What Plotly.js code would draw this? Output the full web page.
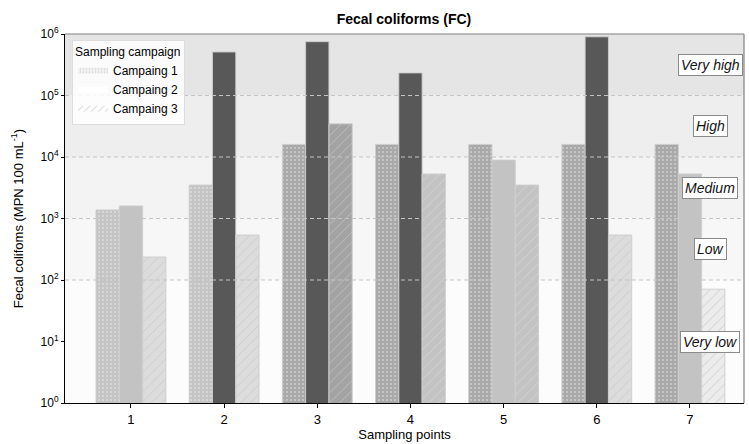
<!DOCTYPE html>
<html>
<head>
<meta charset="utf-8">
<script src="https://cdn.plot.ly/plotly-3.0.1.min.js"></script>
<style>html,body{margin:0;padding:0;background:#fff;}#chart{width:749px;height:444px;}</style>
</head>
<body>
<div id="chart"></div>
<script>
// ---- data ----
const categories = [1, 2, 3, 4, 5, 6, 7];
const campaign1 = [1380, 3500, 16000, 16000, 16000, 16000, 16000];
const campaign2 = [1600, 510000, 750000, 233000, 8900, 900000, 5300];
const campaign3 = [237, 540, 34600, 5300, 3500, 540, 71];
const seriesNames = ['Campaing 1', 'Campaing 2', 'Campaing 3'];
const levelNames = ['Very low', 'Low', 'Medium', 'High', 'Very high'];
const levelBreaks = [1, 100, 1000, 10000, 100000, 1000000];
const yTickVals = [1, 10, 100, 1000, 10000, 100000, 1000000];
const yTickText = ['10<sup>0</sup>','10<sup>1</sup>','10<sup>2</sup>','10<sup>3</sup>','10<sup>4</sup>','10<sup>5</sup>','10<sup>6</sup>'];

// ---- styles ----
const FONT = 'Liberation Sans, Arial, sans-serif';
const solidColors = ['#ececec', '#dcdcdc', '#c3c3c3', '#a3a3a3', '#585858'];
const dotBg = ['#e6e6e6', '#d6d6d6', '#c4c4c4', '#a9a9a9', '#666666'];
const dotFg = ['#f4f4f4', '#ececec', '#dedede', '#cecece', '#999999'];
const hatchFg = ['#cdcdcd', '#cbcbcb', '#d3d3d3', '#bdbdbd', '#7a7a7a'];
const bandColors = ['#fcfcfc', '#f7f7f7', '#f3f3f3', '#eeeeee', '#e5e5e5'];

function level(v) {
  let l = 0;
  for (let i = 1; i < levelBreaks.length - 1; i++) if (v >= levelBreaks[i]) l = i;
  return l;
}

const barW = 0.25;
const edge = {color: 'rgba(205,205,205,0.9)', width: 1};
const noEdge = {color: 'rgba(0,0,0,0)', width: 0};

function baseBar(y, k, colors) {
  return {type: 'bar', x: categories, y: y, name: seriesNames[k], showlegend: false,
    offset: (k - 1.5) * barW, width: barW,
    marker: {color: colors, line: edge}, hoverinfo: 'x+y'};
}
function patternBar(y, k, shape, size, solidity, fg) {
  return {type: 'bar', x: categories, y: y, name: seriesNames[k], showlegend: false,
    offset: (k - 1.5) * barW, width: barW,
    marker: {color: 'rgba(0,0,0,0)', line: noEdge,
      pattern: {shape: shape, size: size, solidity: solidity, fillmode: 'overlay', fgcolor: fg, fgopacity: 1}},
    hoverinfo: 'skip'};
}

const t1 = baseBar(campaign1, 0, campaign1.map(v => dotBg[level(v)]));
const t1p = patternBar(campaign1, 0, '.', 4, 0.2, campaign1.map(v => dotFg[level(v)]));
const t2 = baseBar(campaign2, 1, campaign2.map(v => solidColors[level(v)]));
const t3 = baseBar(campaign3, 2, campaign3.map(v => solidColors[level(v)]));
const t3p = patternBar(campaign3, 2, '/', 7, 0.14, campaign3.map(v => hatchFg[level(v)]));

// legend-only entries (white swatches as in the reference)
function legendEntry(name, pattern) {
  const tr = {
    type: 'scatter', x: [null], y: [null], name: name, mode: 'none',
    fill: 'toself', fillcolor: '#ffffff', showlegend: true, hoverinfo: 'skip'
  };
  if (pattern) tr.fillpattern = pattern;
  return tr;
}
const l1 = legendEntry(seriesNames[0], {shape: '.', size: 3, solidity: 0.3, fgcolor: '#d6d6d6', bgcolor: '#f6f6f6'});
const l2 = legendEntry(seriesNames[1], null);
const l3 = legendEntry(seriesNames[2], {shape: '/', size: 5, solidity: 0.2, fgcolor: '#d6d6d6', bgcolor: '#ffffff'});

const shapes = [];
for (let i = 0; i < levelNames.length; i++) {
  shapes.push({type: 'rect', xref: 'paper', yref: 'y', x0: 0, x1: 1,
    y0: levelBreaks[i], y1: levelBreaks[i + 1], fillcolor: bandColors[i], line: {width: 0}, layer: 'below'});
}
for (let i = 1; i < levelBreaks.length - 1; i++) {
  shapes.push({type: 'line', xref: 'paper', yref: 'y', x0: 0, x1: 1,
    y0: levelBreaks[i], y1: levelBreaks[i], line: {color: '#c4c4c4', width: 1, dash: '4px,3px'}, layer: 'above'});
}
// top and right frame
shapes.push({type: 'line', xref: 'paper', yref: 'paper', x0: 0, x1: 1, y0: 1, y1: 1, line: {color: '#808080', width: 1.2}, layer: 'above'});
shapes.push({type: 'line', xref: 'paper', yref: 'paper', x0: 1, x1: 1, y0: 0, y1: 1, line: {color: '#808080', width: 1.2}, layer: 'above'});

const levelLabelY = [1.0, 2.5, 3.5, 4.5, 5.5]; // log10 positions of the level labels
const annotations = levelNames.map((n, i) => ({
  xref: 'paper', yref: 'y', x: 0.95, y: levelLabelY[i], text: n, showarrow: false,
  font: {family: FONT, size: 14, color: '#111', style: 'italic'},
  bgcolor: '#ffffff', bordercolor: '#8a8a8a', borderwidth: 1, borderpad: 2,
  xanchor: 'center', yanchor: 'middle'
}));

const layout = {
  width: 749, height: 444,
  margin: {l: 65, r: 5, t: 34, b: 41},
  paper_bgcolor: '#ffffff', plot_bgcolor: '#ffffff',
  barmode: 'overlay',
  title: {text: '<b>Fecal coliforms (FC)</b>', font: {family: FONT, size: 14, color: '#000'},
    x: 0.5393, xanchor: 'center', y: 0.957, yanchor: 'middle'},
  font: {family: FONT, size: 13, color: '#000'},
  xaxis: {
    range: [0.292, 7.58], tickvals: categories, ticktext: categories.map(String),
    ticks: 'outside', ticklen: 4, tickcolor: '#000', showline: true, linecolor: '#000', linewidth: 1,
    showgrid: false, zeroline: false, tickfont: {family: FONT, size: 13},
    title: {text: 'Sampling points', font: {family: FONT, size: 13}, standoff: 4}
  },
  yaxis: {
    type: 'log', range: [0, 6], tickvals: yTickVals, ticktext: yTickText,
    ticks: 'outside', ticklen: 3, tickcolor: '#000', showline: true, linecolor: '#000', linewidth: 1,
    showgrid: false, zeroline: false, tickfont: {family: FONT, size: 12},
    title: {text: 'Fecal colifoms (MPN 100 mL<sup>-1</sup>)', font: {family: FONT, size: 13}, standoff: 14}
  },
  legend: {
    x: 0.0103, y: 0.985, xanchor: 'left', yanchor: 'top',
    bgcolor: 'rgba(255,255,255,0.85)', bordercolor: '#dddddd', borderwidth: 1,
    font: {family: FONT, size: 12, color: '#000'},
    title: {text: 'Sampling campaign', font: {family: FONT, size: 12}},
    tracegroupgap: 0, itemwidth: 30, entrywidth: 90
  },
  shapes: shapes,
  annotations: annotations,
  showlegend: true
};

Plotly.newPlot('chart', [t1, t2, t3, t1p, t3p, l1, l2, l3], layout, {displayModeBar: false, staticPlot: true});
</script>
</body>
</html>
